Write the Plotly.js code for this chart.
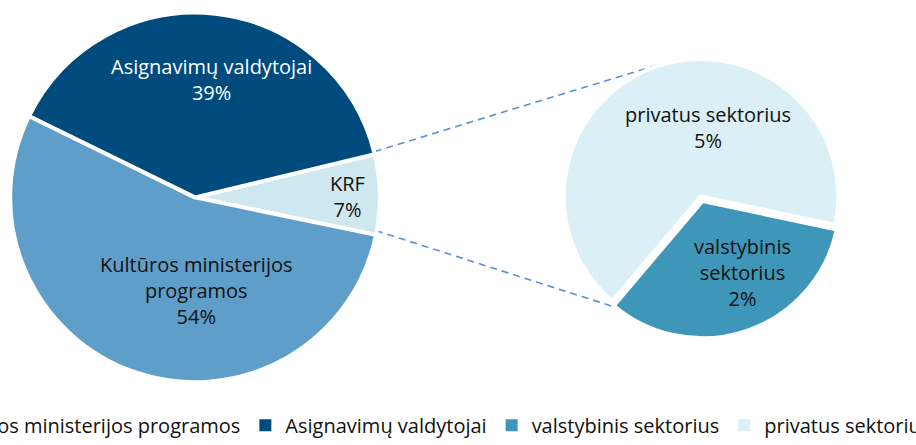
<!DOCTYPE html>
<html><head><meta charset="utf-8">
<script src="https://cdn.plot.ly/plotly-3.0.1.min.js"></script>
<style>
html,body{margin:0;padding:0;overflow:hidden;width:916px;height:445px;background:#fff}
#chart{position:absolute;left:-100px;top:0;width:1100px;height:445px}
</style>
</head><body><div id="chart"></div>
<script>
// ---- data: main pie ----
const mainLabels = ['KRF', 'Kultūros ministerijos programos', 'Asignavimų valdytojai'];
const mainText = ['KRF', 'Kultūros ministerijos<br>programos', 'Asignavimų valdytojai'];
const mainValues = [7, 54, 39];
const mainColors = ['#cfe8ef', '#5f9ec9', '#004b7d'];
const mainTextColors = ['#111111', '#111111', '#ffffff'];
// ---- data: secondary pie (KRF breakdown, % of total) ----
const subLabels = ['valstybinis sektorius', 'privatus sektorius'];
const subText = ['valstybinis<br>sektorius', 'privatus sektorius'];
const subValues = [2.3, 4.7];
const subColors = ['#3e97b8', '#dbeff6'];
// ---- legend ----
const legendLabels = ['Kultūros ministerijos programos', 'Asignavimų valdytojai', 'valstybinis sektorius', 'privatus sektorius'];
const legendColors = ['#5f9ec9', '#004b7d', '#3e97b8', '#dbeff6'];

// ---- layout constants ----
const W = 1100, H = 445;
const FONT = '"Open Sans", "Noto Sans", sans-serif';
const FS = 20;
const mainDom = {x: [0.09709, 0.43927], y: [0.12539, 0.97124]};
const subDom = {x: [0.59664, 0.85973], y: [0.2254, 0.87573]};
const mainRot = 76.5, subRot = 102, subPull = [0.035, 0];
// label anchor: [angle clockwise from 12 o'clock, fraction of radius]
const mainLabelPos = [[91, 0.825], [179, 0.53], [8, 0.634]];
const subLabelPos = [[153, 0.66], [5.6, 0.49]];
const connectorAngles = [-17, 197];

const traces = [
  {
    type: 'pie', labels: mainLabels, values: mainValues, textinfo: 'none',
    sort: false, direction: 'clockwise', rotation: mainRot,
    marker: {colors: mainColors, line: {color: '#ffffff', width: 4}},
    domain: mainDom, showlegend: false, hoverinfo: 'label+value'
  },
  {
    type: 'pie', labels: subLabels, values: subValues, textinfo: 'none',
    sort: false, direction: 'clockwise', rotation: subRot, pull: subPull,
    marker: {colors: subColors, line: {color: '#ffffff', width: 4}},
    domain: subDom, showlegend: false, hoverinfo: 'label+value'
  }
];
legendLabels.forEach((n, i) => traces.push({
  type: 'bar', x: [null], y: [null], name: n,
  marker: {color: legendColors[i]}, showlegend: true, hoverinfo: 'skip'
}));

const layout = {
  width: W, height: H, margin: {l: 0, r: 0, t: 0, b: 0},
  paper_bgcolor: '#ffffff', plot_bgcolor: 'rgba(0,0,0,0)',
  font: {family: FONT, size: FS, color: '#111111'},
  xaxis: {visible: false, fixedrange: true}, yaxis: {visible: false, fixedrange: true},
  showlegend: true,
  legend: {orientation: 'h', x: 0, xanchor: 'left', y: 0.027, yanchor: 'middle',
           font: {family: FONT, size: FS, color: '#111111'}, bgcolor: 'rgba(0,0,0,0)', traceorder: 'normal'}
};

function pt(cd0, deg, frac) {
  const a = deg * Math.PI / 180;
  return [(cd0.cx + frac * cd0.r * Math.sin(a)) / W, 1 - (cd0.cy - frac * cd0.r * Math.cos(a)) / H];
}

Plotly.newPlot('chart', traces, layout, {displayModeBar: false, staticPlot: true}).then(gd => {
  const m = gd.calcdata[0][0], s = gd.calcdata[1][0];
  const total = mainValues.reduce((a, b) => a + b, 0);
  const a0 = mainRot, a1 = mainRot + 360 * mainValues[0] / total;
  const p1 = pt(m, a0, 1), p2 = pt(m, a1, 1);
  const q1 = pt(s, connectorAngles[0], 1), q2 = pt(s, connectorAngles[1], 1);
  const lineStyle = {color: '#5a8fd8', width: 1.6, dash: '7px,5px'};
  const shapes = [
    {type: 'line', xref: 'paper', yref: 'paper', x0: p1[0], y0: p1[1], x1: q1[0], y1: q1[1], line: lineStyle, layer: 'below'},
    {type: 'line', xref: 'paper', yref: 'paper', x0: p2[0], y0: p2[1], x1: q2[0], y1: q2[1], line: lineStyle, layer: 'below'}
  ];
  const ann = [];
  mainValues.forEach((v, i) => {
    const p = pt(m, mainLabelPos[i][0], mainLabelPos[i][1]);
    ann.push({xref: 'paper', yref: 'paper', x: p[0], y: p[1], xanchor: 'center', yanchor: 'middle',
      text: mainText[i] + '<br>' + v + '%', showarrow: false,
      font: {family: FONT, size: FS, color: mainTextColors[i]}});
  });
  subValues.forEach((v, i) => {
    const p = pt(s, subLabelPos[i][0], subLabelPos[i][1]);
    ann.push({xref: 'paper', yref: 'paper', x: p[0], y: p[1], xanchor: 'center', yanchor: 'middle',
      text: subText[i] + '<br>' + Math.round(v) + '%', showarrow: false,
      font: {family: FONT, size: FS, color: '#111111'}});
  });
  return Plotly.relayout(gd, {shapes: shapes, annotations: ann});
});
</script>
</body></html>
